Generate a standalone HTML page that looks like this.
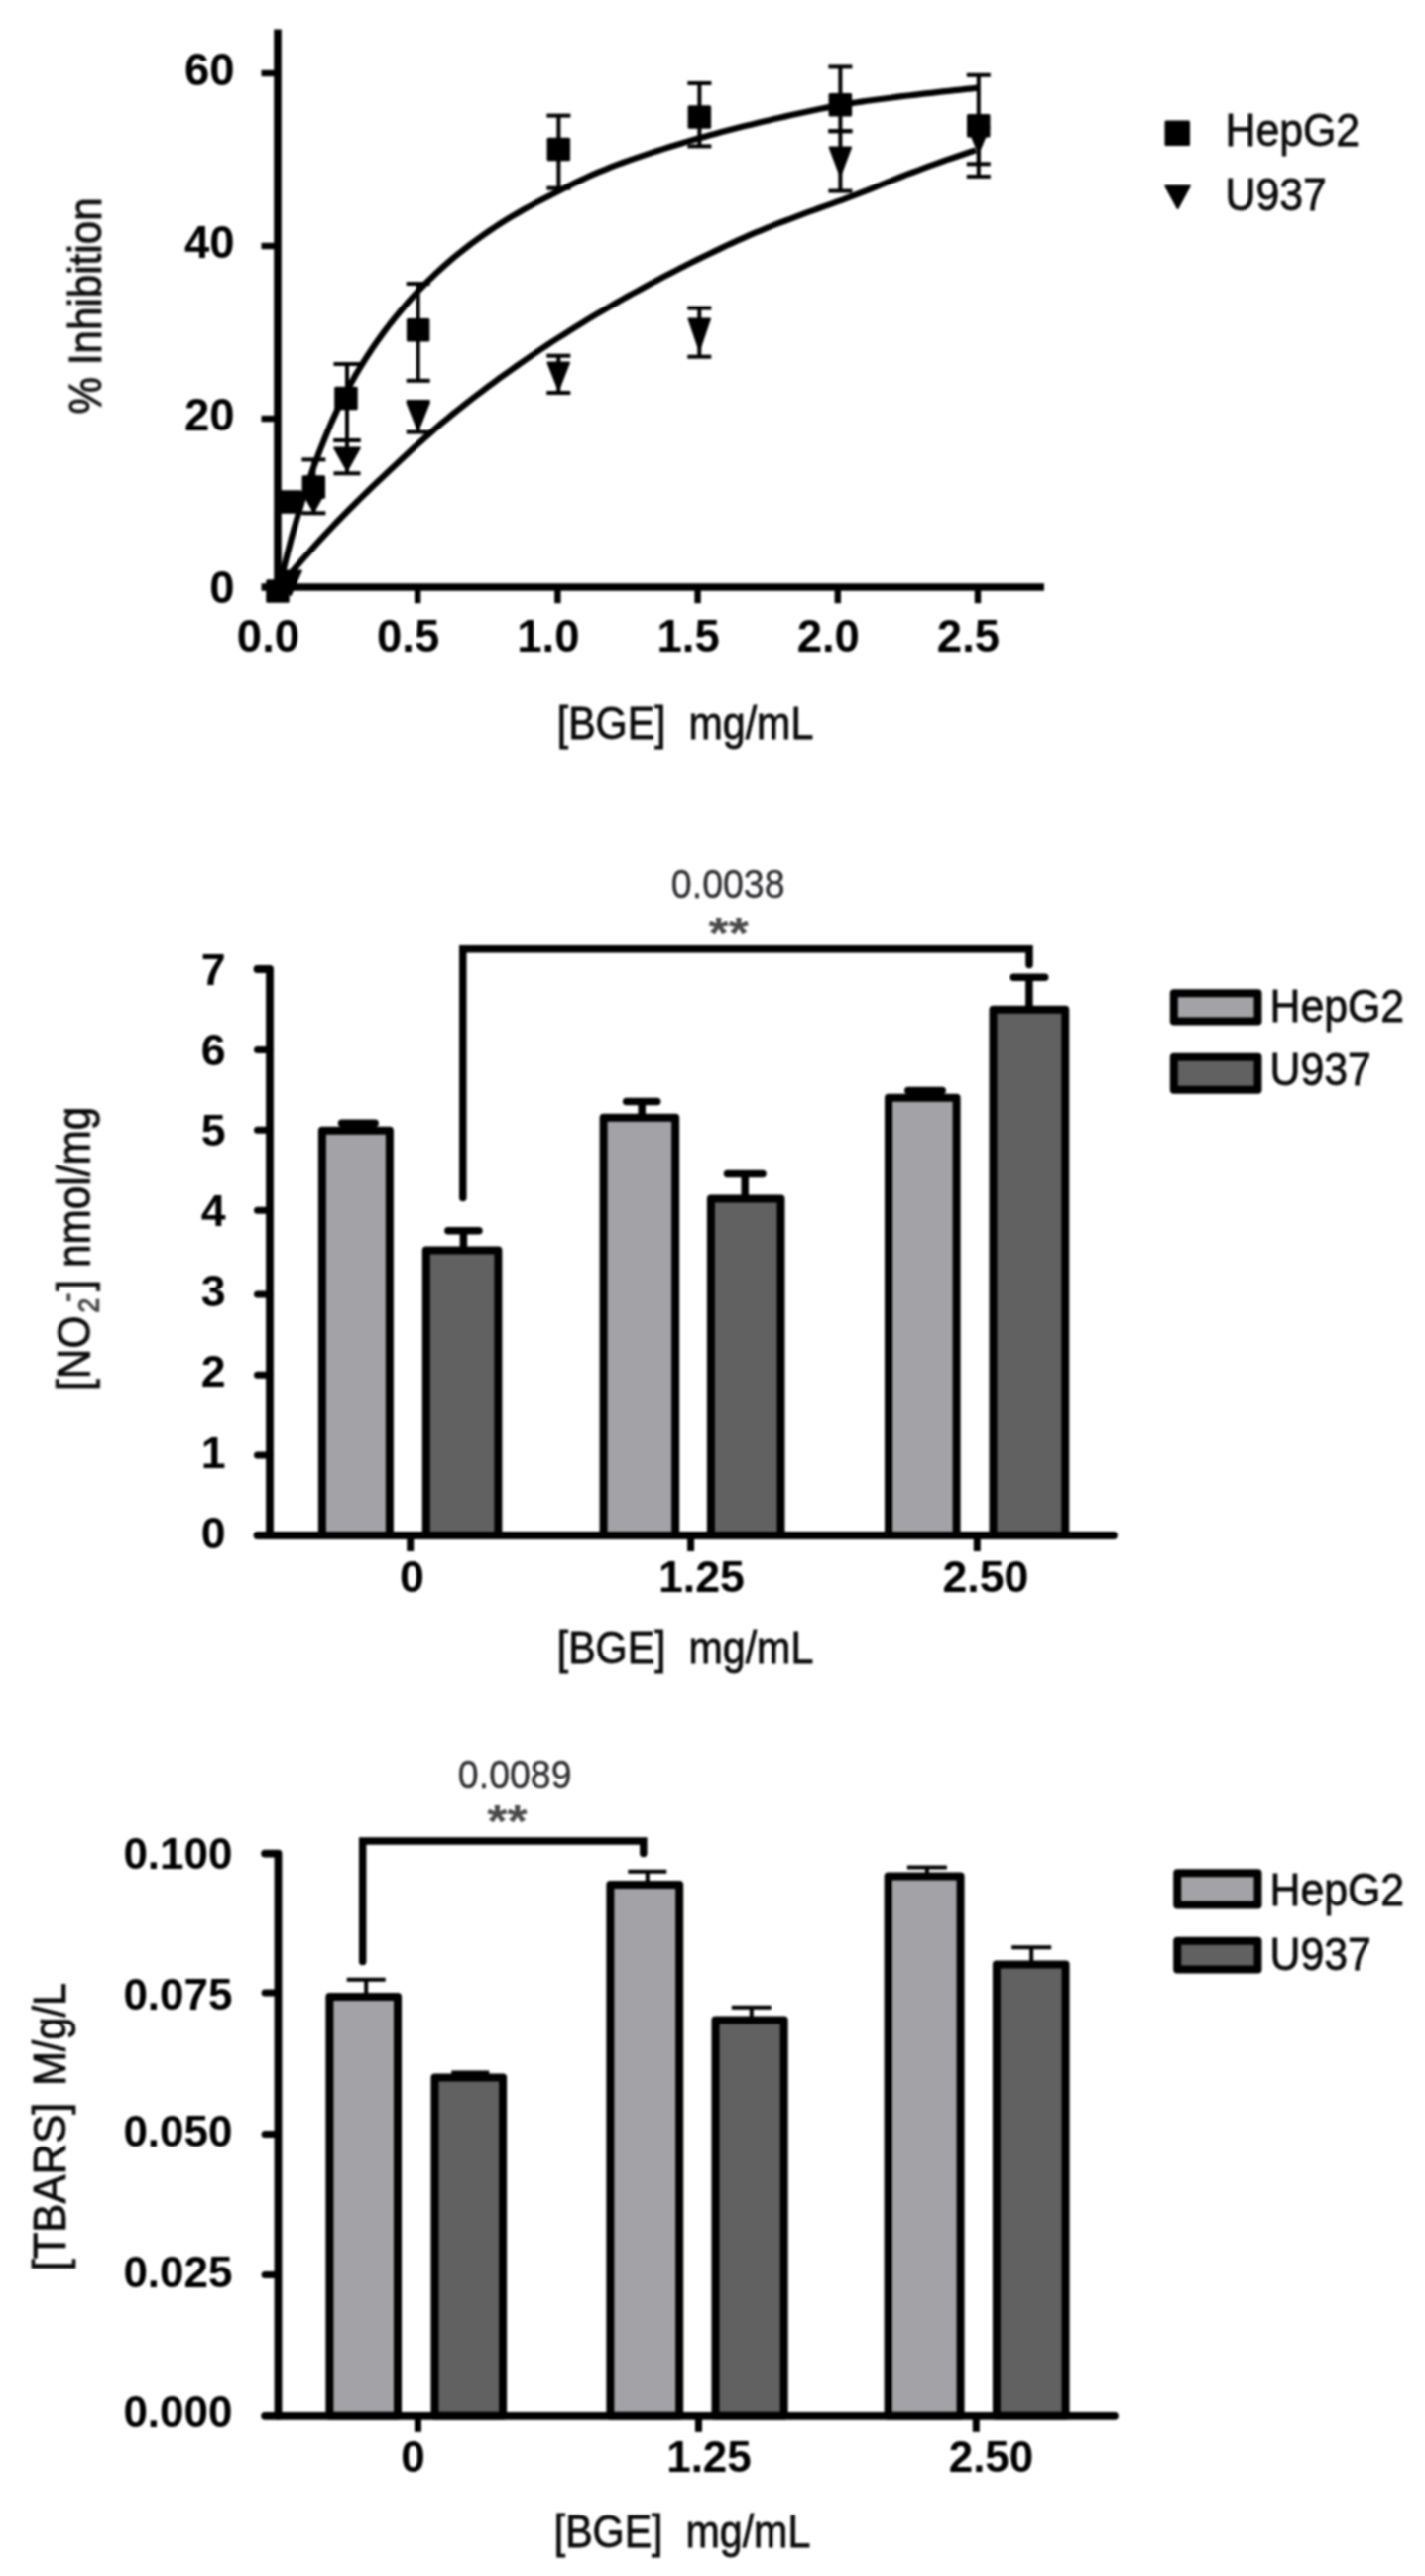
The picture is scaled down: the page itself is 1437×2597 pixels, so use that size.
<!DOCTYPE html>
<html><head><meta charset="utf-8"><title>Figure</title>
<style>
html,body{margin:0;padding:0;background:#fff;}
svg{display:block;}
text{font-family:"Liberation Sans",Arial,sans-serif;}
.r{stroke:#0a0a0a;stroke-width:0.7px;}
</style></head>
<body>
<svg width="1437" height="2597" viewBox="0 0 1437 2597">
<defs><filter id="soft" x="0" y="0" width="1437" height="2597" filterUnits="userSpaceOnUse" color-interpolation-filters="sRGB"><feGaussianBlur stdDeviation="0.75"/></filter></defs>
<rect width="1437" height="2597" fill="#fff"/>
<g style="filter:blur(0.8px)">
<g id="p1">
<line x1="280.0" y1="29.5" x2="280.0" y2="596.0" stroke="#000" stroke-width="7.6" stroke-linecap="butt"/>
<line x1="263.5" y1="592.0" x2="1053.0" y2="592.0" stroke="#000" stroke-width="7.6" stroke-linecap="butt"/>
<line x1="263.5" y1="74.0" x2="280.0" y2="74.0" stroke="#000" stroke-width="6.4" stroke-linecap="butt"/>
<line x1="263.5" y1="248.0" x2="280.0" y2="248.0" stroke="#000" stroke-width="6.4" stroke-linecap="butt"/>
<line x1="263.5" y1="422.0" x2="280.0" y2="422.0" stroke="#000" stroke-width="6.4" stroke-linecap="butt"/>
<line x1="421.2" y1="592.0" x2="421.2" y2="608.2" stroke="#000" stroke-width="6.4" stroke-linecap="butt"/>
<line x1="562.4" y1="592.0" x2="562.4" y2="608.2" stroke="#000" stroke-width="6.4" stroke-linecap="butt"/>
<line x1="703.6" y1="592.0" x2="703.6" y2="608.2" stroke="#000" stroke-width="6.4" stroke-linecap="butt"/>
<line x1="844.8" y1="592.0" x2="844.8" y2="608.2" stroke="#000" stroke-width="6.4" stroke-linecap="butt"/>
<line x1="986.0" y1="592.0" x2="986.0" y2="608.2" stroke="#000" stroke-width="6.4" stroke-linecap="butt"/>
<text x="236.5" y="86.0" font-size="45.5" font-weight="bold" text-anchor="end" fill="#000" >60</text>
<text x="236.5" y="260.0" font-size="45.5" font-weight="bold" text-anchor="end" fill="#000" >40</text>
<text x="236.5" y="434.3" font-size="45.5" font-weight="bold" text-anchor="end" fill="#000" >20</text>
<text x="236.5" y="608.4" font-size="45.5" font-weight="bold" text-anchor="end" fill="#000" >0</text>
<text x="270.5" y="656.8" font-size="45.5" font-weight="bold" text-anchor="middle" fill="#000" >0.0</text>
<text x="411.7" y="656.8" font-size="45.5" font-weight="bold" text-anchor="middle" fill="#000" >0.5</text>
<text x="552.9" y="656.8" font-size="45.5" font-weight="bold" text-anchor="middle" fill="#000" >1.0</text>
<text x="694.1" y="656.8" font-size="45.5" font-weight="bold" text-anchor="middle" fill="#000" >1.5</text>
<text x="835.3" y="656.8" font-size="45.5" font-weight="bold" text-anchor="middle" fill="#000" >2.0</text>
<text x="976.5" y="656.8" font-size="45.5" font-weight="bold" text-anchor="middle" fill="#000" >2.5</text>
<path d="M281.5,592.0 L287.4,567.5 L293.2,544.9 L299.1,524.0 L305.0,504.6 L310.9,486.6 L316.7,469.8 L322.6,454.1 L328.5,439.5 L334.3,425.9 L340.2,413.1 L346.1,401.1 L351.9,389.9 L357.8,379.4 L363.7,369.5 L369.6,360.2 L375.4,351.3 L381.3,342.8 L387.2,334.7 L393.0,327.0 L398.9,319.6 L404.8,312.5 L410.7,305.6 L416.5,299.0 L422.4,292.7 L428.3,286.7 L434.1,280.9 L440.0,275.3 L445.9,269.9 L451.8,264.7 L457.6,259.7 L463.5,254.9 L469.4,250.3 L475.2,245.7 L481.1,241.4 L487.0,237.2 L492.9,233.1 L498.7,229.2 L504.6,225.4 L510.5,221.7 L516.3,218.1 L522.2,214.7 L528.1,211.3 L533.9,208.1 L539.8,204.9 L545.7,201.8 L551.6,198.7 L557.4,195.7 L563.3,192.7 L569.2,189.7 L575.0,186.8 L580.9,183.9 L586.8,181.1 L592.7,178.3 L598.5,175.7 L604.4,173.2 L610.3,170.8 L616.1,168.4 L622.0,166.2 L627.9,164.0 L633.8,161.9 L639.6,159.9 L645.5,157.9 L651.4,155.9 L657.2,153.9 L663.1,152.0 L669.0,150.1 L674.8,148.3 L680.7,146.5 L686.6,144.7 L692.5,142.9 L698.3,141.2 L704.2,139.5 L710.1,137.9 L715.9,136.2 L721.8,134.7 L727.7,133.1 L733.6,131.6 L739.4,130.1 L745.3,128.6 L751.2,127.1 L757.0,125.7 L762.9,124.2 L768.8,122.8 L774.7,121.4 L780.5,120.1 L786.4,118.7 L792.3,117.4 L798.1,116.1 L804.0,114.8 L809.9,113.5 L815.7,112.2 L821.6,111.0 L827.5,109.8 L833.4,108.6 L839.2,107.5 L845.1,106.4 L851.0,105.4 L856.8,104.4 L862.7,103.5 L868.6,102.6 L874.5,101.8 L880.3,101.0 L886.2,100.2 L892.1,99.5 L897.9,98.7 L903.8,97.9 L909.7,97.2 L915.6,96.5 L921.4,95.8 L927.3,95.1 L933.2,94.4 L939.0,93.8 L944.9,93.1 L950.8,92.4 L956.6,91.8 L962.5,91.2 L968.4,90.6 L974.3,89.9 L980.1,89.3 L986.0,88.7" fill="none" stroke="#000" stroke-width="6.2" stroke-linejoin="round"/>
<path d="M281.5,592.2 L287.4,585.0 L293.2,578.0 L299.1,571.1 L304.9,564.3 L310.8,557.7 L316.6,551.1 L322.5,544.7 L328.3,538.4 L334.2,532.1 L340.0,526.0 L345.9,520.0 L351.8,514.0 L357.6,508.2 L363.5,502.4 L369.3,496.7 L375.2,491.1 L381.0,485.5 L386.9,480.0 L392.7,474.4 L398.6,468.9 L404.4,463.5 L410.3,458.0 L416.1,452.6 L422.0,447.2 L427.9,441.9 L433.7,436.8 L439.6,431.7 L445.4,426.7 L451.3,421.8 L457.1,417.0 L463.0,412.3 L468.8,407.7 L474.7,403.1 L480.5,398.6 L486.4,394.2 L492.2,389.8 L498.1,385.4 L504.0,381.1 L509.8,376.9 L515.7,372.7 L521.5,368.6 L527.4,364.5 L533.2,360.5 L539.1,356.5 L544.9,352.5 L550.8,348.7 L556.6,344.8 L562.5,341.0 L568.4,337.3 L574.2,333.6 L580.1,329.9 L585.9,326.3 L591.8,322.7 L597.6,319.2 L603.5,315.7 L609.3,312.3 L615.2,308.9 L621.0,305.5 L626.9,302.1 L632.8,298.8 L638.6,295.6 L644.5,292.4 L650.3,289.2 L656.2,286.0 L662.0,282.9 L667.9,279.8 L673.7,276.7 L679.6,273.7 L685.4,270.7 L691.3,267.7 L697.1,264.8 L703.0,261.9 L708.9,259.0 L714.7,256.2 L720.6,253.4 L726.4,250.6 L732.3,247.8 L738.1,245.1 L744.0,242.4 L749.8,239.8 L755.7,237.2 L761.5,234.7 L767.4,232.3 L773.2,229.9 L779.1,227.5 L785.0,225.2 L790.8,223.0 L796.7,220.8 L802.5,218.6 L808.4,216.4 L814.2,214.2 L820.1,212.1 L825.9,210.0 L831.8,207.9 L837.6,205.8 L843.5,203.7 L849.4,201.6 L855.2,199.4 L861.1,197.2 L866.9,194.9 L872.8,192.6 L878.6,190.3 L884.5,187.9 L890.3,185.5 L896.2,183.2 L902.0,180.8 L907.9,178.5 L913.8,176.2 L919.6,174.0 L925.5,171.8 L931.3,169.6 L937.2,167.4 L943.0,165.3 L948.9,163.3 L954.7,161.2 L960.6,159.2 L966.4,157.2 L972.3,155.2 L978.1,153.3 L984.0,151.4" fill="none" stroke="#000" stroke-width="6.2" stroke-linejoin="round"/>
<line x1="316.4" y1="463.4" x2="316.4" y2="517.3" stroke="#000" stroke-width="4" stroke-linecap="butt"/>
<line x1="304.4" y1="463.4" x2="328.4" y2="463.4" stroke="#000" stroke-width="4" stroke-linecap="butt"/>
<line x1="304.4" y1="517.3" x2="328.4" y2="517.3" stroke="#000" stroke-width="4" stroke-linecap="butt"/>
<line x1="350.0" y1="367.0" x2="350.0" y2="444.0" stroke="#000" stroke-width="4" stroke-linecap="butt"/>
<line x1="336.5" y1="367.0" x2="363.5" y2="367.0" stroke="#000" stroke-width="4" stroke-linecap="butt"/>
<line x1="336.5" y1="444.0" x2="363.5" y2="444.0" stroke="#000" stroke-width="4" stroke-linecap="butt"/>
<line x1="421.7" y1="286.0" x2="421.7" y2="383.8" stroke="#000" stroke-width="4" stroke-linecap="butt"/>
<line x1="409.7" y1="286.0" x2="433.7" y2="286.0" stroke="#000" stroke-width="4" stroke-linecap="butt"/>
<line x1="409.7" y1="383.8" x2="433.7" y2="383.8" stroke="#000" stroke-width="4" stroke-linecap="butt"/>
<line x1="563.4" y1="116.6" x2="563.4" y2="189.7" stroke="#000" stroke-width="4" stroke-linecap="butt"/>
<line x1="551.4" y1="116.6" x2="575.4" y2="116.6" stroke="#000" stroke-width="4" stroke-linecap="butt"/>
<line x1="551.4" y1="189.7" x2="575.4" y2="189.7" stroke="#000" stroke-width="4" stroke-linecap="butt"/>
<line x1="705.4" y1="84.0" x2="705.4" y2="147.4" stroke="#000" stroke-width="4" stroke-linecap="butt"/>
<line x1="693.4" y1="84.0" x2="717.4" y2="84.0" stroke="#000" stroke-width="4" stroke-linecap="butt"/>
<line x1="693.4" y1="147.4" x2="717.4" y2="147.4" stroke="#000" stroke-width="4" stroke-linecap="butt"/>
<line x1="847.4" y1="67.4" x2="847.4" y2="132.2" stroke="#000" stroke-width="4" stroke-linecap="butt"/>
<line x1="835.4" y1="67.4" x2="859.4" y2="67.4" stroke="#000" stroke-width="4" stroke-linecap="butt"/>
<line x1="835.4" y1="132.2" x2="859.4" y2="132.2" stroke="#000" stroke-width="4" stroke-linecap="butt"/>
<line x1="986.8" y1="75.8" x2="986.8" y2="177.9" stroke="#000" stroke-width="4" stroke-linecap="butt"/>
<line x1="974.8" y1="75.8" x2="998.8" y2="75.8" stroke="#000" stroke-width="4" stroke-linecap="butt"/>
<line x1="974.8" y1="177.9" x2="998.8" y2="177.9" stroke="#000" stroke-width="4" stroke-linecap="butt"/>
<line x1="350.0" y1="444.0" x2="350.0" y2="477.3" stroke="#000" stroke-width="4" stroke-linecap="butt"/>
<line x1="336.5" y1="444.0" x2="363.5" y2="444.0" stroke="#000" stroke-width="4" stroke-linecap="butt"/>
<line x1="336.5" y1="477.3" x2="363.5" y2="477.3" stroke="#000" stroke-width="4" stroke-linecap="butt"/>
<line x1="421.7" y1="405.0" x2="421.7" y2="435.6" stroke="#000" stroke-width="4" stroke-linecap="butt"/>
<line x1="409.7" y1="405.0" x2="433.7" y2="405.0" stroke="#000" stroke-width="4" stroke-linecap="butt"/>
<line x1="409.7" y1="435.6" x2="433.7" y2="435.6" stroke="#000" stroke-width="4" stroke-linecap="butt"/>
<line x1="563.3" y1="358.7" x2="563.3" y2="396.0" stroke="#000" stroke-width="4" stroke-linecap="butt"/>
<line x1="551.3" y1="358.7" x2="575.3" y2="358.7" stroke="#000" stroke-width="4" stroke-linecap="butt"/>
<line x1="551.3" y1="396.0" x2="575.3" y2="396.0" stroke="#000" stroke-width="4" stroke-linecap="butt"/>
<line x1="705.3" y1="310.6" x2="705.3" y2="359.7" stroke="#000" stroke-width="4" stroke-linecap="butt"/>
<line x1="693.3" y1="310.6" x2="717.3" y2="310.6" stroke="#000" stroke-width="4" stroke-linecap="butt"/>
<line x1="693.3" y1="359.7" x2="717.3" y2="359.7" stroke="#000" stroke-width="4" stroke-linecap="butt"/>
<line x1="847.4" y1="132.2" x2="847.4" y2="192.6" stroke="#000" stroke-width="4" stroke-linecap="butt"/>
<line x1="835.4" y1="132.2" x2="859.4" y2="132.2" stroke="#000" stroke-width="4" stroke-linecap="butt"/>
<line x1="835.4" y1="192.6" x2="859.4" y2="192.6" stroke="#000" stroke-width="4" stroke-linecap="butt"/>
<line x1="986.8" y1="140.0" x2="986.8" y2="165.3" stroke="#000" stroke-width="4" stroke-linecap="butt"/>
<line x1="974.8" y1="165.3" x2="998.8" y2="165.3" stroke="#000" stroke-width="4" stroke-linecap="butt"/>
<rect x="268.2" y="584.2" width="23.5" height="23.5" rx="1.5" fill="#000"/>
<rect x="281.2" y="494.2" width="23.5" height="23.5" rx="1.5" fill="#000"/>
<rect x="304.6" y="479.2" width="23.5" height="23.5" rx="1.5" fill="#000"/>
<rect x="337.2" y="389.8" width="23.5" height="23.5" rx="1.5" fill="#000"/>
<rect x="409.9" y="321.1" width="23.5" height="23.5" rx="1.5" fill="#000"/>
<rect x="551.6" y="138.7" width="23.5" height="23.5" rx="1.5" fill="#000"/>
<rect x="693.6" y="106.2" width="23.5" height="23.5" rx="1.5" fill="#000"/>
<rect x="835.6" y="94.0" width="23.5" height="23.5" rx="1.5" fill="#000"/>
<rect x="975.0" y="115.0" width="23.5" height="23.5" rx="1.5" fill="#000"/>
<path d="M337.2,451.6 L362.8,451.6 L350.0,474.5 Z" fill="#000" stroke="#000" stroke-width="2" stroke-linejoin="round"/>
<path d="M282.2,575.5 L303.8,575.5 L293.0,600.0 Z" fill="#000" stroke="#000" stroke-width="2" stroke-linejoin="round"/>
<path d="M305.6,497.0 L327.1,497.0 L316.4,516.0 Z" fill="#000" stroke="#000" stroke-width="2" stroke-linejoin="round"/>
<path d="M410.9,407.0 L432.4,407.0 L421.7,434.0 Z" fill="#000" stroke="#000" stroke-width="2" stroke-linejoin="round"/>
<path d="M552.5,365.6 L574.0,365.6 L563.3,393.0 Z" fill="#000" stroke="#000" stroke-width="2" stroke-linejoin="round"/>
<path d="M694.5,321.4 L716.0,321.4 L705.3,353.0 Z" fill="#000" stroke="#000" stroke-width="2" stroke-linejoin="round"/>
<path d="M836.6,148.4 L858.1,148.4 L847.4,177.0 Z" fill="#000" stroke="#000" stroke-width="2" stroke-linejoin="round"/>
<path d="M976.0,128.0 L997.5,128.0 L986.8,153.7 Z" fill="#000" stroke="#000" stroke-width="2" stroke-linejoin="round"/>
<rect x="1174.5" y="121.4" width="25.5" height="25.5" rx="1.5" fill="#000"/>
<path d="M1175.3,187.5 L1199.8,187.5 L1187.6,210.0 Z" fill="#000" stroke="#000" stroke-width="2" stroke-linejoin="round"/>
<text transform="translate(1235.5,146.5) scale(1,1.1)" font-size="42.8" text-anchor="start" fill="#0a0a0a" class="r" style="white-space:pre" >HepG2</text>
<text transform="translate(1235.5,211.5) scale(1,1.1)" font-size="42.8" text-anchor="start" fill="#0a0a0a" class="r" style="white-space:pre" >U937</text>
<text transform="translate(102.3,417.5) rotate(-90) scale(1,1.085)" font-size="42.2" text-anchor="start" fill="#0a0a0a" class="r" style="white-space:pre" >% Inhibition</text>
<text transform="translate(691.0,745.5) scale(1,1.1)" font-size="41.2" text-anchor="middle" fill="#0a0a0a" class="r" style="white-space:pre" >[BGE]  mg/mL</text>
</g>
<g id="p2">
<line x1="361.4" y1="1132.2" x2="361.4" y2="1139.8" stroke="#000" stroke-width="7.5" stroke-linecap="butt"/>
<line x1="344.6" y1="1132.2" x2="378.1" y2="1132.2" stroke="#000" stroke-width="7.5" stroke-linecap="round"/>
<rect x="324.9" y="1139.8" width="68.0" height="408.2" fill="#a3a2a6" stroke="#000" stroke-width="8.0" stroke-linejoin="round"/>
<line x1="467.4" y1="1240.8" x2="467.4" y2="1260.4" stroke="#000" stroke-width="7.5" stroke-linecap="butt"/>
<line x1="451.9" y1="1240.8" x2="482.9" y2="1240.8" stroke="#000" stroke-width="7.5" stroke-linecap="round"/>
<rect x="429.8" y="1260.4" width="72.6" height="287.6" fill="#616161" stroke="#000" stroke-width="8.0" stroke-linejoin="round"/>
<line x1="647.2" y1="1110.4" x2="647.2" y2="1126.8" stroke="#000" stroke-width="7.5" stroke-linecap="butt"/>
<line x1="631.7" y1="1110.4" x2="662.7" y2="1110.4" stroke="#000" stroke-width="7.5" stroke-linecap="round"/>
<rect x="608.6" y="1126.8" width="72.6" height="421.2" fill="#a3a2a6" stroke="#000" stroke-width="8.0" stroke-linejoin="round"/>
<line x1="751.2" y1="1183.6" x2="751.2" y2="1208.4" stroke="#000" stroke-width="7.5" stroke-linecap="butt"/>
<line x1="733.5" y1="1183.6" x2="769.0" y2="1183.6" stroke="#000" stroke-width="7.5" stroke-linecap="round"/>
<rect x="716.9" y="1208.4" width="70.6" height="339.6" fill="#616161" stroke="#000" stroke-width="8.0" stroke-linejoin="round"/>
<line x1="933.0" y1="1099.5" x2="933.0" y2="1106.7" stroke="#000" stroke-width="7.5" stroke-linecap="butt"/>
<line x1="915.8" y1="1099.5" x2="950.2" y2="1099.5" stroke="#000" stroke-width="7.5" stroke-linecap="round"/>
<rect x="896.0" y="1106.7" width="68.6" height="441.3" fill="#a3a2a6" stroke="#000" stroke-width="8.0" stroke-linejoin="round"/>
<line x1="1037.9" y1="985.3" x2="1037.9" y2="1017.7" stroke="#000" stroke-width="7.5" stroke-linecap="butt"/>
<line x1="1022.2" y1="985.3" x2="1053.7" y2="985.3" stroke="#000" stroke-width="7.5" stroke-linecap="round"/>
<rect x="1001.5" y="1017.7" width="72.8" height="530.3" fill="#616161" stroke="#000" stroke-width="8.0" stroke-linejoin="round"/>
<path d="M259.5,977.0 L272.0,977.0 L272.0,1548.0" fill="none" stroke="#000" stroke-width="7.8" stroke-linejoin="round" stroke-linecap="round"/>
<line x1="259.5" y1="1548.0" x2="1123.0" y2="1548.0" stroke="#000" stroke-width="7.8" stroke-linecap="round"/>
<line x1="259.5" y1="1467.0" x2="272.0" y2="1467.0" stroke="#000" stroke-width="7" stroke-linecap="round"/>
<text x="227.5" y="1479.6" font-size="44.7" font-weight="bold" text-anchor="end" fill="#000" >1</text>
<line x1="259.5" y1="1386.3" x2="272.0" y2="1386.3" stroke="#000" stroke-width="7" stroke-linecap="round"/>
<text x="227.5" y="1397.9" font-size="44.7" font-weight="bold" text-anchor="end" fill="#000" >2</text>
<line x1="259.5" y1="1305.0" x2="272.0" y2="1305.0" stroke="#000" stroke-width="7" stroke-linecap="round"/>
<text x="227.5" y="1317.0" font-size="44.7" font-weight="bold" text-anchor="end" fill="#000" >3</text>
<line x1="259.5" y1="1220.2" x2="272.0" y2="1220.2" stroke="#000" stroke-width="7" stroke-linecap="round"/>
<text x="227.5" y="1236.2" font-size="44.7" font-weight="bold" text-anchor="end" fill="#000" >4</text>
<line x1="259.5" y1="1139.2" x2="272.0" y2="1139.2" stroke="#000" stroke-width="7" stroke-linecap="round"/>
<text x="227.5" y="1155.3" font-size="44.7" font-weight="bold" text-anchor="end" fill="#000" >5</text>
<line x1="259.5" y1="1058.4" x2="272.0" y2="1058.4" stroke="#000" stroke-width="7" stroke-linecap="round"/>
<text x="227.5" y="1074.4" font-size="44.7" font-weight="bold" text-anchor="end" fill="#000" >6</text>
<line x1="259.5" y1="977.0" x2="272.0" y2="977.0" stroke="#000" stroke-width="7" stroke-linecap="round"/>
<text x="227.5" y="992.8" font-size="44.7" font-weight="bold" text-anchor="end" fill="#000" >7</text>
<line x1="413.7" y1="1548.0" x2="413.7" y2="1564.0" stroke="#000" stroke-width="7" stroke-linecap="butt"/>
<line x1="696.6" y1="1548.0" x2="696.6" y2="1564.0" stroke="#000" stroke-width="7" stroke-linecap="butt"/>
<line x1="985.3" y1="1548.0" x2="985.3" y2="1564.0" stroke="#000" stroke-width="7" stroke-linecap="butt"/>
<text x="415.5" y="1604.7" font-size="44.7" font-weight="bold" text-anchor="middle" fill="#000" >0</text>
<text x="707.5" y="1604.7" font-size="44.7" font-weight="bold" text-anchor="middle" fill="#000" >1.25</text>
<text x="994.0" y="1604.7" font-size="44.7" font-weight="bold" text-anchor="middle" fill="#000" >2.50</text>
<text transform="translate(691.0,1676.7) scale(1,1.1)" font-size="41.2" text-anchor="middle" fill="#0a0a0a" class="r" style="white-space:pre" >[BGE]  mg/mL</text>
<path d="M466.8,1207.5 L466.8,956.8 L1038,956.8 L1038,972.5" fill="none" stroke="#000" stroke-width="7.5" stroke-linejoin="miter" stroke-linecap="round"/>
<text transform="translate(734.2,904.7) scale(1,1.1)" font-size="37.5" text-anchor="middle" fill="#2c2c30" stroke="#2c2c30" stroke-width="0.3">0.0038</text>
<text transform="translate(734.8,956.5) scale(1,0.9)" font-size="52" font-weight="bold" text-anchor="middle" fill="#4a4a4a">**</text>
<rect x="1183.8" y="1001.3" width="84.7" height="28.2" fill="#a3a2a6" stroke="#000" stroke-width="8" stroke-linejoin="round"/>
<text transform="translate(1280.5,1029.5) scale(1,1.1)" font-size="42.8" text-anchor="start" fill="#0a0a0a" class="r" style="white-space:pre" >HepG2</text>
<rect x="1183.8" y="1065.7" width="84.7" height="33.0" fill="#616161" stroke="#000" stroke-width="8" stroke-linejoin="round"/>
<text transform="translate(1280.5,1094.0) scale(1,1.1)" font-size="42.8" text-anchor="start" fill="#0a0a0a" class="r" style="white-space:pre" >U937</text>
<text transform="translate(90.5,1402) rotate(-90) scale(1,1.077)" font-size="42.4" fill="#0a0a0a" class="r">[NO<tspan font-size="27" dy="8" dx="3" fill="#555">2</tspan><tspan font-size="27" dy="-20" dx="-4" fill="#555">-</tspan><tspan dy="12" dx="2">] nmol/mg</tspan></text>
</g>
<text x="227.5" y="1560.6" font-size="44.7" font-weight="bold" text-anchor="end" fill="#000" >0</text>
<g id="p3">
<line x1="369.2" y1="1995.8" x2="369.2" y2="2013.0" stroke="#000" stroke-width="4" stroke-linecap="butt"/>
<line x1="349.7" y1="1995.8" x2="388.7" y2="1995.8" stroke="#000" stroke-width="4" stroke-linecap="butt"/>
<rect x="332.4" y="2013.0" width="68.6" height="422.8" fill="#a3a2a6" stroke="#000" stroke-width="8.0" stroke-linejoin="round"/>
<line x1="474.3" y1="2089.5" x2="474.3" y2="2094.6" stroke="#000" stroke-width="4" stroke-linecap="butt"/>
<line x1="455.3" y1="2089.5" x2="493.3" y2="2089.5" stroke="#000" stroke-width="4" stroke-linecap="butt"/>
<rect x="438.5" y="2094.6" width="68.6" height="341.2" fill="#616161" stroke="#000" stroke-width="8.0" stroke-linejoin="round"/>
<line x1="652.8" y1="1886.7" x2="652.8" y2="1900.0" stroke="#000" stroke-width="4" stroke-linecap="butt"/>
<line x1="633.3" y1="1886.7" x2="672.3" y2="1886.7" stroke="#000" stroke-width="4" stroke-linecap="butt"/>
<rect x="615.4" y="1900.0" width="69.8" height="535.8" fill="#a3a2a6" stroke="#000" stroke-width="8.0" stroke-linejoin="round"/>
<line x1="757.8" y1="2023.7" x2="757.8" y2="2036.4" stroke="#000" stroke-width="4" stroke-linecap="butt"/>
<line x1="737.8" y1="2023.7" x2="777.8" y2="2023.7" stroke="#000" stroke-width="4" stroke-linecap="butt"/>
<rect x="721.5" y="2036.4" width="69.2" height="399.4" fill="#616161" stroke="#000" stroke-width="8.0" stroke-linejoin="round"/>
<line x1="934.9" y1="1882.4" x2="934.9" y2="1891.6" stroke="#000" stroke-width="4" stroke-linecap="butt"/>
<line x1="914.9" y1="1882.4" x2="954.9" y2="1882.4" stroke="#000" stroke-width="4" stroke-linecap="butt"/>
<rect x="895.6" y="1891.6" width="73.0" height="544.2" fill="#a3a2a6" stroke="#000" stroke-width="8.0" stroke-linejoin="round"/>
<line x1="1040.2" y1="1963.3" x2="1040.2" y2="1980.4" stroke="#000" stroke-width="4" stroke-linecap="butt"/>
<line x1="1020.2" y1="1963.3" x2="1060.2" y2="1963.3" stroke="#000" stroke-width="4" stroke-linecap="butt"/>
<rect x="1004.9" y="1980.4" width="69.7" height="455.4" fill="#616161" stroke="#000" stroke-width="8.0" stroke-linejoin="round"/>
<path d="M267.1,1868.6 L280.5,1868.6 L280.5,2435.8" fill="none" stroke="#000" stroke-width="7.8" stroke-linejoin="round" stroke-linecap="round"/>
<line x1="267.1" y1="2435.8" x2="1124.0" y2="2435.8" stroke="#000" stroke-width="7.8" stroke-linecap="round"/>
<line x1="267.1" y1="2293.6" x2="280.5" y2="2293.6" stroke="#000" stroke-width="7" stroke-linecap="round"/>
<text x="234.5" y="2306.1" font-size="44" font-weight="bold" text-anchor="end" fill="#000" >0.025</text>
<line x1="267.1" y1="2151.6" x2="280.5" y2="2151.6" stroke="#000" stroke-width="7" stroke-linecap="round"/>
<text x="234.5" y="2164.4" font-size="44" font-weight="bold" text-anchor="end" fill="#000" >0.050</text>
<line x1="267.1" y1="2009.0" x2="280.5" y2="2009.0" stroke="#000" stroke-width="7" stroke-linecap="round"/>
<text x="234.5" y="2025.8" font-size="44" font-weight="bold" text-anchor="end" fill="#000" >0.075</text>
<line x1="267.1" y1="1868.6" x2="280.5" y2="1868.6" stroke="#000" stroke-width="7" stroke-linecap="round"/>
<text x="234.5" y="1884.4" font-size="44" font-weight="bold" text-anchor="end" fill="#000" >0.100</text>
<line x1="421.5" y1="2435.8" x2="421.5" y2="2451.8" stroke="#000" stroke-width="7" stroke-linecap="butt"/>
<line x1="704.5" y1="2435.8" x2="704.5" y2="2451.8" stroke="#000" stroke-width="7" stroke-linecap="butt"/>
<line x1="984.3" y1="2435.8" x2="984.3" y2="2451.8" stroke="#000" stroke-width="7" stroke-linecap="butt"/>
<text x="416.4" y="2491.5" font-size="44" font-weight="bold" text-anchor="middle" fill="#000" >0</text>
<text x="715.0" y="2491.5" font-size="44" font-weight="bold" text-anchor="middle" fill="#000" >1.25</text>
<text x="999.5" y="2491.5" font-size="44" font-weight="bold" text-anchor="middle" fill="#000" >2.50</text>
<text transform="translate(688.0,2568.0) scale(1,1.1)" font-size="41.2" text-anchor="middle" fill="#0a0a0a" class="r" style="white-space:pre" >[BGE]  mg/mL</text>
<path d="M365.7,1977.5 L365.7,1856 L648.8,1856 L648.8,1868.5" fill="none" stroke="#000" stroke-width="7.5" stroke-linejoin="miter" stroke-linecap="round"/>
<text transform="translate(519.2,1803.0) scale(1,1.1)" font-size="37.5" text-anchor="middle" fill="#2c2c30" stroke="#2c2c30" stroke-width="0.3">0.0089</text>
<text transform="translate(511.6,1851.8) scale(1,0.9)" font-size="52" font-weight="bold" text-anchor="middle" fill="#4a4a4a">**</text>
<rect x="1187.2" y="1888.2" width="81.3" height="32.3" fill="#a3a2a6" stroke="#000" stroke-width="8" stroke-linejoin="round"/>
<text transform="translate(1280.5,1920.5) scale(1,1.1)" font-size="42.8" text-anchor="start" fill="#0a0a0a" class="r" style="white-space:pre" >HepG2</text>
<rect x="1187.2" y="1956.7" width="81.3" height="28.7" fill="#616161" stroke="#000" stroke-width="8" stroke-linejoin="round"/>
<text transform="translate(1280.5,1985.5) scale(1,1.1)" font-size="42.8" text-anchor="start" fill="#0a0a0a" class="r" style="white-space:pre" >U937</text>
<text transform="translate(65.5,2289.5) rotate(-90) scale(1,1.045)" font-size="43.7" fill="#0a0a0a" class="r">[TBARS]</text><text transform="translate(65.5,2102.7) rotate(-90) scale(1,1.1)" font-size="41.5" fill="#0a0a0a" class="r">M/g/L</text>
</g>
<text x="234.5" y="2446.5" font-size="44" font-weight="bold" text-anchor="end" fill="#000" >0.000</text>
</g>
</svg>
</body></html>
